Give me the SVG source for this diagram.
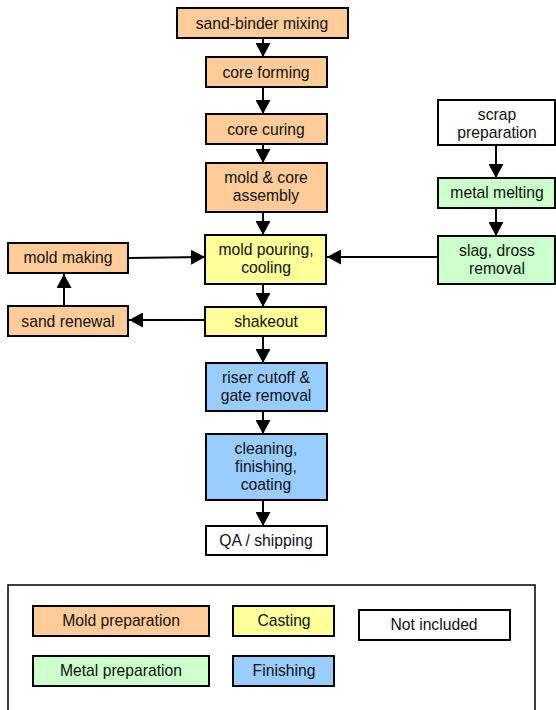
<svg xmlns="http://www.w3.org/2000/svg" width="556" height="710" viewBox="0 0 556 710">
<style>
.n{stroke:#000;stroke-width:2}
.o{fill:#FFCC99}.y{fill:#FFFF99}.g{fill:#CCFFCC}.b{fill:#99CCFF}.w{fill:#fff}
text{font-family:"Liberation Sans",Arial,sans-serif;font-size:15.7px;fill:#111;text-anchor:middle}
.c{stroke:#000;stroke-width:2;fill:none;marker-end:url(#ah)}
</style>
<defs>
<marker id="ah" markerWidth="15" markerHeight="15" refX="14" refY="7.5" orient="auto" markerUnits="userSpaceOnUse">
<path d="M0,0 L14,7.5 L0,15 Z" fill="#000"/>
</marker>
</defs>
<rect width="556" height="710" fill="#fff"/>
<g id="connectors">
<line class="c" x1="263" y1="38" x2="263" y2="57"/>
<line class="c" x1="263" y1="87" x2="263" y2="114"/>
<line class="c" x1="263" y1="144" x2="263" y2="163"/>
<line class="c" x1="263" y1="212" x2="263" y2="235"/>
<line class="c" x1="263" y1="284" x2="263" y2="307"/>
<line class="c" x1="263" y1="336" x2="263" y2="363"/>
<line class="c" x1="263" y1="411" x2="263" y2="434"/>
<line class="c" x1="263" y1="500" x2="263" y2="526"/>
<line class="c" x1="128" y1="258" x2="205" y2="257"/>
<line class="c" x1="205" y1="320" x2="129" y2="320"/>
<line class="c" x1="64" y1="306" x2="64" y2="274"/>
<line class="c" x1="496" y1="145" x2="496" y2="178"/>
<line class="c" x1="496" y1="208" x2="496" y2="236"/>
<line class="c" x1="438" y1="257" x2="327" y2="257"/>
</g>
<g id="sand-binder"><rect class="n o" x="177" y="8" width="171" height="30"/><text x="262" y="29">sand-binder mixing</text></g>
<g id="core-forming"><rect class="n o" x="206" y="57" width="121" height="30"/><text x="266" y="78">core forming</text></g>
<g id="core-curing"><rect class="n o" x="206" y="114" width="121" height="30"/><text x="266" y="135">core curing</text></g>
<g id="assembly"><rect class="n o" x="206" y="163" width="121" height="49"/><text x="266" y="183">mold &amp; core</text><text x="266" y="201">assembly</text></g>
<g id="pouring"><rect class="n y" x="205" y="235" width="121" height="49"/><text x="266" y="255">mold pouring,</text><text x="266" y="273">cooling</text></g>
<g id="shakeout"><rect class="n y" x="205" y="307" width="121" height="29"/><text x="266" y="327">shakeout</text></g>
<g id="riser"><rect class="n b" x="206" y="363" width="121" height="48"/><text x="266" y="383">riser cutoff &amp;</text><text x="266" y="401">gate removal</text></g>
<g id="cleaning"><rect class="n b" x="206" y="434" width="121" height="66"/><text x="266" y="454">cleaning,</text><text x="266" y="472">finishing,</text><text x="266" y="490">coating</text></g>
<g id="qa"><rect class="n w" x="206" y="526" width="121" height="29"/><text x="266" y="546">QA / shipping</text></g>
<g id="mold-making"><rect class="n o" x="8" y="243" width="120" height="30"/><text x="68" y="263">mold making</text></g>
<g id="sand-renewal"><rect class="n o" x="8" y="306" width="120" height="30"/><text x="68" y="327">sand renewal</text></g>
<g id="scrap"><rect class="n w" x="438" y="100" width="117" height="45"/><text x="497" y="120">scrap</text><text x="497" y="138">preparation</text></g>
<g id="melting"><rect class="n g" x="438" y="178" width="117" height="30"/><text x="497" y="198">metal melting</text></g>
<g id="slag"><rect class="n g" x="438" y="236" width="117" height="48"/><text x="497" y="256">slag, dross</text><text x="497" y="274">removal</text></g>
<g id="legend">
<rect x="8" y="585" width="527" height="130" fill="#fff" stroke="#000" stroke-width="1.5"/>
<rect class="n o" x="33" y="606" width="176" height="30"/><text x="121" y="626">Mold preparation</text>
<rect class="n y" x="233" y="606" width="101" height="30"/><text x="284" y="626">Casting</text>
<rect class="n w" x="359" y="610" width="151" height="30"/><text x="434" y="630">Not included</text>
<rect class="n g" x="33" y="656" width="176" height="30"/><text x="121" y="676">Metal preparation</text>
<rect class="n b" x="233" y="656" width="101" height="30"/><text x="284" y="676">Finishing</text>
</g>
</svg>
